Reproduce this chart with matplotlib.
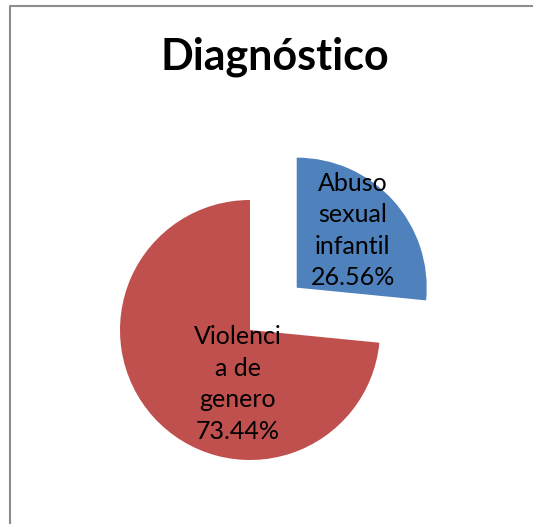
import numpy as np
import matplotlib.pyplot as plt

labels = ['Abuso\nsexual\ninfantil', 'Violenci\na de\ngenero']
values = [26.56, 73.44]
colors = ['#4f81bd', '#c0504d']
explode = [0.485, 0]  # fraction of radius

W, H = 533, 524
fig = plt.figure(figsize=(W / 100, H / 100), dpi=100)
ax = fig.add_axes([0, 0, 1, 1])

# chart frame (only left and top visible)
ax.plot([9.5, 9.5, W], [0, H - 5.5, H - 5.5], color='#8c8c8c', lw=1.5)

cx, cy, r = 250, H - 330, 130
# pie's explode is in data units, so scale by radius
wedges, _ = ax.pie(values, colors=colors, explode=[e * r for e in explode],
                   startangle=90, counterclock=False, center=(cx, cy),
                   radius=r, wedgeprops=dict(linewidth=0))
ax.set_xlim(0, W)
ax.set_ylim(0, H)
ax.set_aspect('equal')
ax.axis('off')

font = 'Lato'
# label offsets relative to each wedge's apex
offsets = [(56, 57), (-12, -54)]
for w, lab, v, (dx, dy) in zip(wedges, labels, values, offsets):
    x0, y0 = w.center
    ax.text(x0 + dx, y0 + dy, f'{lab}\n{v:.2f}%', ha='center', va='center',
            fontsize=18, family=font, linespacing=1.45, color='black')

ax.text(W / 2 + 8, H - 57, 'Diagnóstico', ha='center', va='center',
        fontsize=31, fontweight='bold', family=font)

fig.savefig('out.png', dpi=100)
